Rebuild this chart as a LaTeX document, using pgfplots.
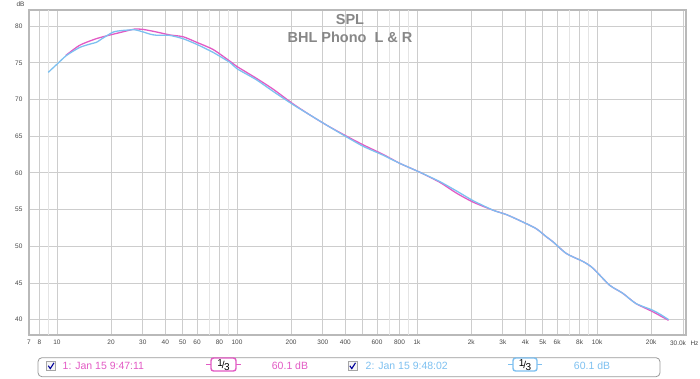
\documentclass[border=0pt]{standalone}
\usepackage{pgfplots}
\pgfplotsset{compat=1.18}
\usepackage{pgfplotstable}
\usepackage{fontspec}
\setmainfont{Liberation Sans}
\definecolor{cmag}{RGB}{226,90,196}
\definecolor{cblu}{RGB}{125,192,240}
\definecolor{ctxt}{RGB}{70,70,70}
\definecolor{cgrid}{RGB}{205,205,205}
\definecolor{cgridl}{RGB}{228,228,228}
\definecolor{ctitle}{RGB}{135,135,135}

\pgfplotstableread{
f db
11.2 76.0
13.4 77.4
16.6 78.3
19.8 78.8
24.4 79.35
27 79.6
30.2 79.55
35.8 79.2
42.4 78.8
50.3 78.55
59.7 77.8
73.9 76.8
91.6 75.2
100 74.5
128 72.9
159 71.4
205 69.4
254 67.9
315 66.5
406 65.0
504 63.8
650 62.5
802 61.3
1034 60.1
1341 58.7
1667 57.2
2054 56.0
2653 54.9
3148 54.3
3874 53.3
4590 52.4
5222 51.3
5695 50.6
6764 49.0
8385 47.9
9500 47.0
11730 44.7
13880 43.6
16420 42.2
20290 41.1
22500 40.5
24960 39.9
}\magdata

\pgfplotstableread{
f db
8.95 73.7
10 74.8
11.3 76.0
13.4 77.1
15.5 77.6
16.6 77.8
18.1 78.4
20.6 79.2
23 79.4
27 79.5
30.2 79.2
33 78.9
36 78.75
42 78.75
50 78.3
60 77.5
74 76.4
92 75.0
100 74.2
128 72.7
159 71.1
205 69.3
254 67.9
315 66.5
406 64.9
504 63.6
650 62.4
802 61.3
1034 60.1
1341 58.8
1667 57.5
2054 56.2
2653 54.9
3148 54.3
3874 53.3
4590 52.4
5222 51.3
5695 50.6
6764 49.0
8385 47.9
9500 47.0
11730 44.7
13880 43.6
16420 42.2
20290 41.3
22500 40.7
24960 40.0
}\bludata

\begin{document}
\begin{tikzpicture}[x=1pt,y=1pt]
\useasboundingbox (0,0) rectangle (700,378);
\begin{axis}[
  at={(29pt,43pt)}, anchor=south west,
  width=657pt, height=325pt, scale only axis,
  xmode=log, xmin=7, xmax=31200, ymin=37.9, ymax=82.2,
  xtick={7,8,10,20,30,40,50,60,80,100,200,300,400,500,600,800,1000,2000,3000,4000,5000,6000,8000,10000,20000,30000},
  xticklabels={7,8,10,20,30,40,50,60,80,100,200,300,400,,600,800,1k,2k,3k,4k,5k,6k,8k,10k,20k,},
  extra x ticks={9,70,90,700,900,7000,9000},
  extra x tick labels={},
  extra x tick style={grid=major, major grid style={cgridl, line width=0.8pt}},
  ytick={40,45,...,80},
  grid=major, major grid style={cgrid, line width=0.8pt},
  major tick length=0pt,
  axis line style={draw=gray!55, line width=1.5pt},
  tick label style={font=\fontsize{6.5}{7}\selectfont, text=ctxt},
  /pgf/number format/assume math mode=true,
  xticklabel style={yshift=-1pt},
  yticklabel style={xshift=-3pt},
  clip=true,
]
\addplot[cmag, line width=1.3pt, smooth, tension=0.4] table[x=f,y=db]{\magdata};
\addplot[cblu, line width=1.3pt, smooth, tension=0.4] table[x=f,y=db]{\bludata};
\end{axis}
% axis decorations
\node[font=\fontsize{6.5}{7}\selectfont, text=ctxt] at (20.5,374) {dB};
\node[font=\fontsize{6.5}{7}\selectfont, text=ctxt] at (678,35) {30.0k};
\node[font=\fontsize{6.5}{7}\selectfont, text=ctxt] at (694.5,35) {Hz};
% title
\node[font=\fontsize{14.5}{16}\selectfont\bfseries, text=ctitle] at (350,358) {SPL};
\node[font=\fontsize{14.5}{16}\selectfont\bfseries, text=ctitle] at (350,340.5) {BHL Phono\ \ L \& R};
% legend
\draw[gray!80, line width=0.8pt, rounded corners=4pt] (38,1.3) rectangle (660,20.3);
% item 1
\draw[gray!70, fill=gray!8] (46.5,7.5) rectangle (55.5,16.5);
\draw[blue!60!black, line width=1.1pt] (48.3,12.2) -- (50.3,9.4) -- (54,15.2);
\node[anchor=west, text=cmag, font=\fontsize{10.5}{11}\selectfont, inner sep=0pt] at (62.5,12.3) {1: Jan 15 9:47:11};
\draw[cmag, line width=1.4pt] (206,13.5) -- (211,13.5) (236,13.5) -- (241,13.5);
\draw[cmag, line width=1.4pt, fill=white, rounded corners=2.5pt] (211,7) rectangle (236,20);
\node[font=\fontsize{10}{11}\selectfont] at (223.5,13.3) {\raisebox{2pt}{1}\kern-1pt/\kern-0.5pt\raisebox{-2pt}{3}};
\node[text=cmag, font=\fontsize{10.5}{11}\selectfont] at (290,12.3) {60.1 dB};
% item 2
\draw[gray!70, fill=gray!8] (348,7.5) rectangle (357,16.5);
\draw[blue!60!black, line width=1.1pt] (349.8,12.2) -- (351.8,9.4) -- (355.5,15.2);
\node[anchor=west, text=cblu, font=\fontsize{10.5}{11}\selectfont, inner sep=0pt] at (365.5,12.3) {2: Jan 15 9:48:02};
\draw[cblu, line width=1.4pt] (508,13.5) -- (513,13.5) (537,13.5) -- (542,13.5);
\draw[cblu, line width=1.4pt, fill=white, rounded corners=2.5pt] (513,7) rectangle (537,20);
\node[font=\fontsize{10}{11}\selectfont] at (525,13.3) {\raisebox{2pt}{1}\kern-1pt/\kern-0.5pt\raisebox{-2pt}{3}};
\node[text=cblu, font=\fontsize{10.5}{11}\selectfont] at (592,12.3) {60.1 dB};
\end{tikzpicture}
\end{document}
